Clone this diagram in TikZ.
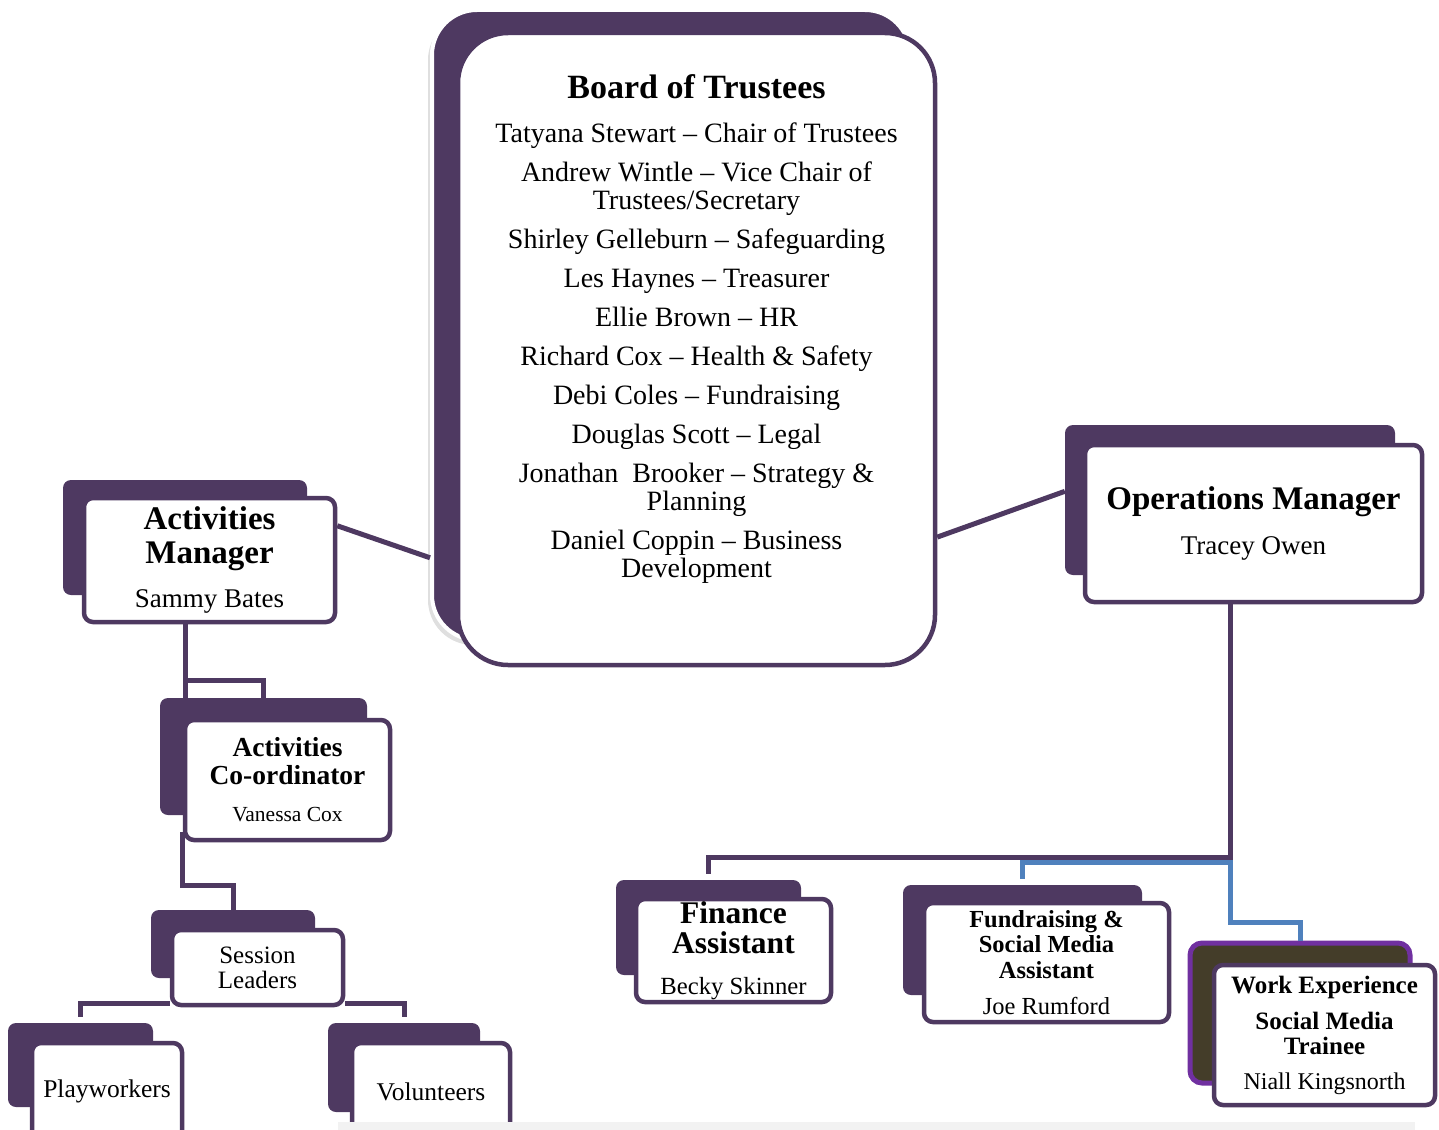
\documentclass[tikz,border=0pt]{standalone}
\usepackage{fontspec}
\setmainfont{Liberation Serif}
\usepackage{tikz}
\usetikzlibrary{calc, shadows}
\definecolor{orgpurple}{RGB}{78,57,97}
\definecolor{orgblue}{RGB}{79,129,189}
\definecolor{orgviolet}{RGB}{112,48,160}
\definecolor{orgolive}{RGB}{68,61,41}
\definecolor{pagegrey}{RGB}{242,242,242}
\newcommand{\boxhead}[2]{{\fontsize{#1}{#1}\selectfont\bfseries #2}}
\tikzset{
  backbox/.style={rectangle, fill=orgpurple, rounded corners=8pt, inner sep=0pt},
  frontbox/.style={rectangle, draw=orgpurple, fill=white, line width=4.5pt,
    rounded corners=9pt, align=center, inner sep=0pt},
  link/.style={draw=orgpurple, line width=5pt},
  bluelink/.style={draw=orgblue, line width=5pt}
}

\begin{document}
\begin{tikzpicture}[x=1pt, y=-1pt]
  \useasboundingbox (0,0) rectangle (1439,1129);

  % back plates
  \node[backbox, draw=white, line width=4pt, rounded corners=45pt,
    minimum width=478pt, minimum height=630pt,
    drop shadow={shadow xshift=-4pt, shadow yshift=-5pt, opacity=0.25}] (boardback) at (671,325) {};
  \node[backbox, minimum width=244pt, minimum height=115pt] (amback) at (185,537.5) {};
  \node[backbox, minimum width=330pt, minimum height=150pt] (opsback) at (1230,500) {};
  \node[backbox, minimum width=207pt, minimum height=117pt] (acback) at (263.5,756.5) {};
  \node[backbox, minimum width=164pt, minimum height=68pt] (slback) at (233,944) {};
  \node[backbox, minimum width=145pt, minimum height=84pt] (pwback) at (80.5,1065) {};
  \node[backbox, minimum width=152pt, minimum height=89pt] (voback) at (404,1067.5) {};
  \node[backbox, minimum width=185pt, minimum height=95pt] (faback) at (708.5,927.5) {};
  \node[backbox, minimum width=239pt, minimum height=110pt] (frback) at (1022.5,940) {};
  \node[backbox, fill=orgolive, draw=orgviolet, line width=5pt, rounded corners=12pt,
    minimum width=220pt, minimum height=140pt] (weback) at (1300,1013) {};

  % connectors
  \coordinate (opsjoin) at (opsback.south |- 0,857);
  \coordinate (bluejoin) at (opsback.south |- 0,862);
  \coordinate (wejoin) at (opsback.south |- 0,922);
  \coordinate (acjoin) at (amback.south |- 0,680);
  \coordinate (sljoin) at (slback.north |- 0,885);
  \draw[link] (opsback.south) -- (opsjoin) -| ([yshift=6pt]faback.north);
  \draw[bluelink] ([yshift=6pt]frback.north) |- (bluejoin) -- (wejoin) -| (weback.north);
  \draw[link] (amback.south) -- (amback.south |- acback.north);
  \draw[link] (acjoin) -| (acback.north);

  % front boxes
  \node[frontbox, rounded corners=50pt, minimum width=477pt, minimum height=632pt] (board) at (696.5,349) {};
  \node[frontbox, minimum width=251pt, minimum height=124pt,
    font=\fontsize{27}{34}\selectfont] (am) at (209.5,560)
    {\boxhead{33}{Activities}\\\boxhead{33}{Manager}\\[10pt]Sammy Bates};
  \node[frontbox, minimum width=337pt, minimum height=157pt,
    font=\fontsize{27}{45}\selectfont] (ops) at (1253.5,523.5)
    {\boxhead{33}{Operations Manager}\\Tracey Owen};
  \node[frontbox, minimum width=205pt, minimum height=120pt,
    font=\fontsize{21.5}{28}\selectfont] (ac) at (287.5,780)
    {\boxhead{27.5}{Activities}\\\boxhead{27.5}{Co-ordinator}\\[9pt]Vanessa Cox};
  \node[frontbox, minimum width=171pt, minimum height=75pt,
    font=\fontsize{25}{25}\selectfont] (sl) at (257.5,967.5) {Session\\Leaders};
  \node[frontbox, minimum width=150pt, minimum height=97pt,
    font=\fontsize{25.5}{26}\selectfont] (pw) at (107,1091.5) {Playworkers};
  \node[frontbox, minimum width=158pt, minimum height=97pt,
    font=\fontsize{25.5}{26}\selectfont] (vo) at (431,1091.5) {Volunteers};
  \node[frontbox, minimum width=195pt, minimum height=103pt,
    font=\fontsize{24.7}{30}\selectfont] (fa) at (733.5,950.5)
    {\boxhead{31.5}{Finance}\\\boxhead{31.5}{Assistant}\\[11pt]Becky Skinner};
  \node[frontbox, minimum width=245pt, minimum height=119pt,
    font=\fontsize{24.5}{25.5}\selectfont] (fr) at (1046.5,962.5)
    {\boxhead{24.5}{Fundraising \&}\\\boxhead{24.5}{Social Media}\\\boxhead{24.5}{Assistant}\\[10.5pt]Joe Rumford};
  \node[frontbox, minimum width=221pt, minimum height=140pt,
    font=\fontsize{24}{25}\selectfont] (we) at (1324.5,1035)
    {\boxhead{25}{Work Experience}\\[11pt]\boxhead{25}{Social Media}\\\boxhead{25}{Trainee}\\[10pt]Niall Kingsnorth};

  \node[anchor=north, align=center, inner sep=0pt, font=\fontsize{28}{28}\selectfont]
    (trustees) at ([yshift=-44pt]board.north)
    {\boxhead{34}{Board of Trustees}\\[16pt]
     Tatyana Stewart – Chair of Trustees\\[11pt]
     Andrew Wintle – Vice Chair of\\Trustees/Secretary\\[11pt]
     Shirley Gelleburn – Safeguarding\\[11pt]
     Les Haynes – Treasurer\\[11pt]
     Ellie Brown – HR\\[11pt]
     Richard Cox – Health \& Safety\\[11pt]
     Debi Coles – Fundraising\\[11pt]
     Douglas Scott – Legal\\[11pt]
     Jonathan~ Brooker – Strategy \&\\Planning\\[11pt]
     Daniel Coppin – Business\\Development};

  % links that run from box sides
  \draw[link] (am.15) -- (boardback.224);
  \draw[link] (board.-38) -- (opsback.177);
  \draw[link] ([yshift=10pt]ac.south west) |- (sljoin) -- (slback.north);
  \draw[link] ([yshift=4pt]sl.south west) -| ([yshift=6pt]pwback.north);
  \draw[link] ([yshift=4pt]sl.south east) -| ([yshift=6pt]voback.north);

  \fill[pagegrey] (338,1122) rectangle (1415,1135);
\end{tikzpicture}
\end{document}
